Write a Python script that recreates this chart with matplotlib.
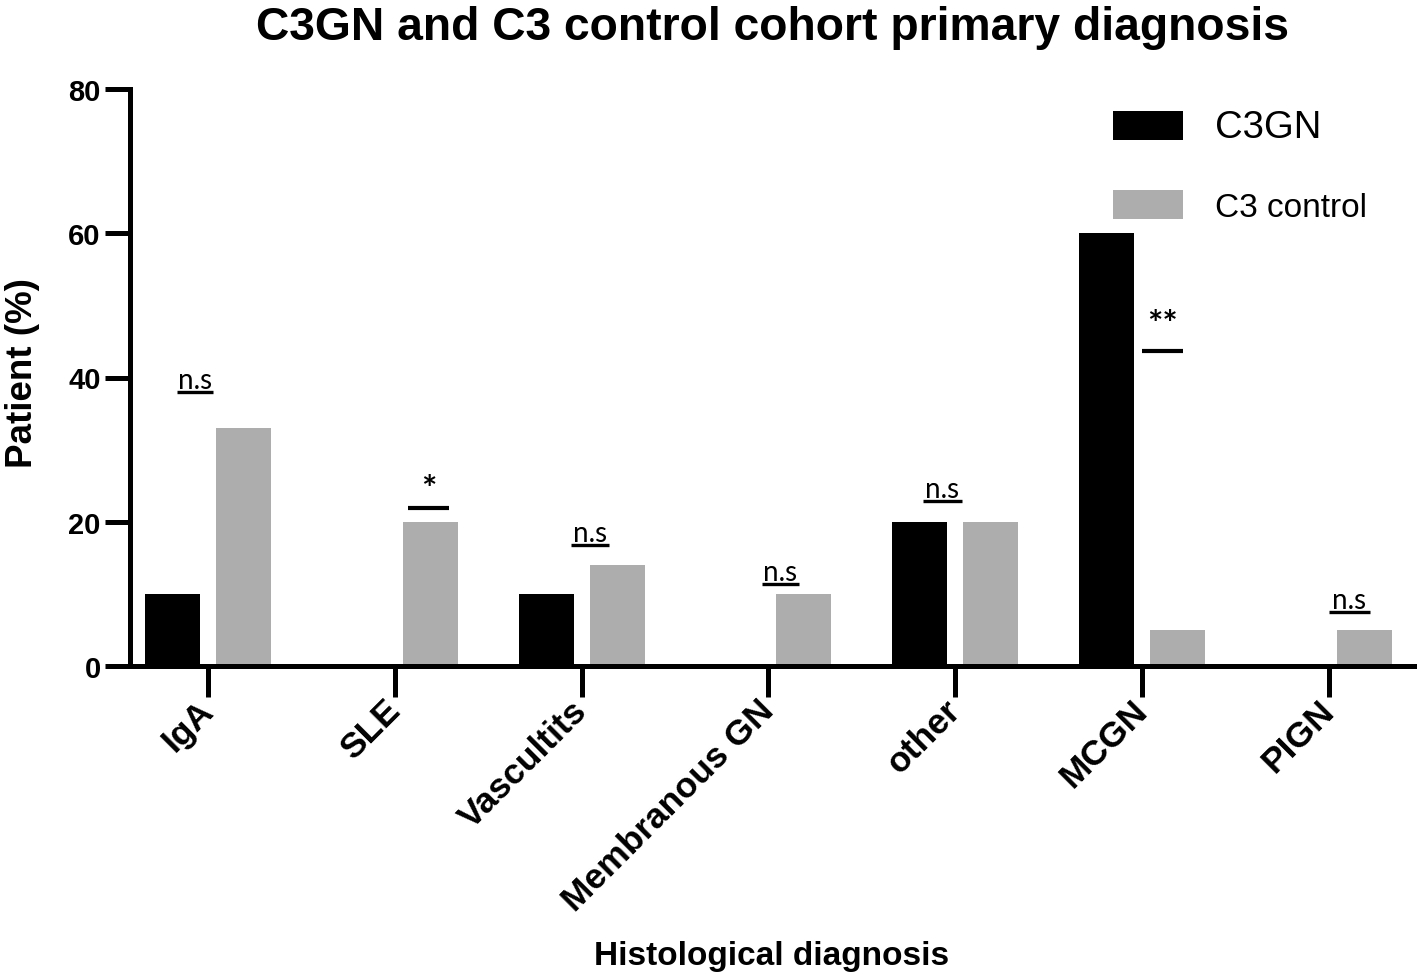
import numpy as np
import matplotlib
matplotlib.use('Agg')
import matplotlib.pyplot as plt
import matplotlib.transforms as mtransforms

plt.rcParams['font.family'] = ['Liberation Sans', 'DejaVu Sans']

categories = ['IgA', 'SLE', 'Vascultits', 'Membranous GN', 'other', 'MCGN', 'PIGN']
c3gn = [10, 0, 10, 0, 20, 60, 0]
c3_control = [33, 20, 14, 10, 20, 5, 5]

# significance marks: label, x (category units), y of bar line, line length
sig_text = ['n.s', '*', 'n.s', 'n.s', 'n.s', '**', 'n.s']
sig_x = [-0.07, 1.18, 2.045, 3.064, 3.93, 5.11, 6.11]
sig_y = [38.0, 21.9, 16.8, 11.4, 22.9, 43.7, 7.5]
sig_w = [0.19, 0.22, 0.20, 0.20, 0.21, 0.22, 0.22]

x = np.arange(len(categories))
w = 0.294
off = 0.19

fig = plt.figure(figsize=(14.18, 9.79), dpi=100)
ax = fig.add_axes([130/1418, 1-667/979, 1284/1418, 577/979])

b1 = ax.bar(x - off, c3gn, w, color='black', label='C3GN')
b2 = ax.bar(x + off, c3_control, w, color='#adadad', label='C3 control')

for t, sx, sy, sw in zip(sig_text, sig_x, sig_y, sig_w):
    if t == 'n.s':
        ax.plot([sx - sw/2, sx + sw/2], [sy, sy], color='black', lw=2.4, solid_capstyle='butt')
        ax.annotate(t, (sx, sy), xytext=(0, 3), textcoords='offset points',
                    ha='center', va='baseline', fontsize=20, family=['Lato', 'DejaVu Sans'])
    else:
        ax.plot([sx - sw/2, sx + sw/2], [sy, sy], color='black', lw=3, solid_capstyle='butt')
        ax.annotate(t, (sx, sy), xytext=(0, 13 if t == '*' else 19), textcoords='offset points',
                    ha='center', va='center', fontsize=26, fontweight='bold',
                    family=['Lato', 'DejaVu Sans'])

ax.set_xlim(-0.417, 6.455)
ax.set_ylim(0, 80)
ax.set_yticks([0, 20, 40, 60, 80])
ax.set_xticks(x)
ax.set_xticklabels(categories, rotation=45, ha='right', va='center', rotation_mode='anchor',
                   fontsize=25.5, fontweight='bold')
shift = mtransforms.ScaledTranslation(0.06, 0.02, fig.dpi_scale_trans)
for lab in ax.get_xticklabels():
    lab.set_transform(lab.get_transform() + shift)
for lab in ax.get_yticklabels():
    lab.set_fontsize(21)
    lab.set_fontweight('bold')

for s in ['top', 'right']:
    ax.spines[s].set_visible(False)
for s in ['left', 'bottom']:
    ax.spines[s].set_linewidth(3.6)
ax.tick_params(axis='y', length=18, width=3.6, pad=3)
ax.tick_params(axis='x', length=22, width=3.6, pad=6)

ax.set_title('C3GN and C3 control cohort primary diagnosis', fontsize=33.3, fontweight='bold', pad=36)
ax.set_xlabel('Histological diagnosis', fontsize=24, fontweight='bold', va='top')
ax.xaxis.set_label_coords(0.5, -0.475)
ax.set_ylabel('Patient (%)', fontsize=26.5, fontweight='bold')
ax.yaxis.set_label_coords(-0.070, 0.51)

leg = ax.legend(handles=[b1, b2], loc='upper left', bbox_to_anchor=(1113/1418, 1-110/979),
                bbox_transform=fig.transFigure, frameon=False, fontsize=24,
                handlelength=2.1, handleheight=0.95, handletextpad=0.95, labelspacing=1.35,
                borderpad=0, borderaxespad=0)
leg.get_texts()[0].set_fontsize(27.5)

fig.savefig('out.png', dpi=100)
